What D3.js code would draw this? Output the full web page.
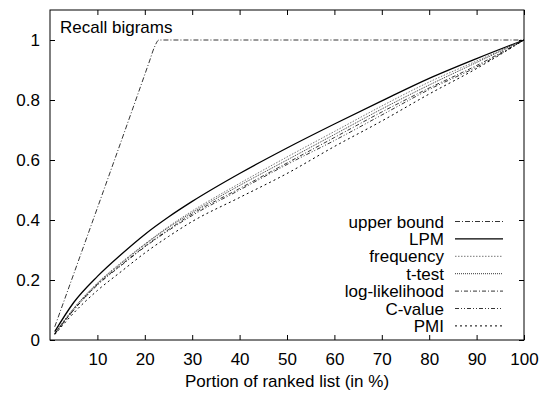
<!DOCTYPE html>
<html>
<head>
<meta charset="utf-8">
<script src="https://cdn.jsdelivr.net/npm/d3@7"></script>
<style>
  body { margin: 0; background: #fff; }
  svg { display: block; }
  text { font-family: 'Liberation Sans', Arial, sans-serif; font-size: 17px; fill: #000; }
</style>
</head>
<body>
<svg></svg>
<script>
// portion of ranked list (%)
let portion = [1, 5, 10, 15, 20, 25, 30, 40, 50, 60, 70, 80, 90, 100]

let upperX = [1, 21, 22, 23, 100]
let upperY = [0.044, 0.93, 0.975, 1, 1]

let lpm       = [0.028, 0.125, 0.212, 0.285, 0.352, 0.41, 0.462, 0.555, 0.64, 0.72, 0.797, 0.872, 0.938, 1]
let frequency = [0.022, 0.105, 0.19, 0.258, 0.32, 0.378, 0.43, 0.522, 0.61, 0.695, 0.78, 0.86, 0.93, 1]
let ttest     = [0.022, 0.105, 0.188, 0.255, 0.318, 0.375, 0.425, 0.515, 0.6, 0.685, 0.77, 0.85, 0.925, 1]
let loglik    = [0.02, 0.1, 0.185, 0.25, 0.312, 0.368, 0.42, 0.505, 0.59, 0.675, 0.76, 0.84, 0.915, 1]
let cvalue    = [0.02, 0.1, 0.183, 0.248, 0.31, 0.365, 0.415, 0.5, 0.585, 0.665, 0.75, 0.835, 0.91, 1]
let pmi       = [0.018, 0.09, 0.165, 0.228, 0.29, 0.345, 0.395, 0.475, 0.555, 0.645, 0.73, 0.82, 0.905, 1]

let xTicks = [10, 20, 30, 40, 50, 60, 70, 80, 90, 100]
let yTicks = [0, 0.2, 0.4, 0.6, 0.8, 1]

let width = 539
let height = 394
let padL = 50, padR = 524, padT = 10, padB = 340

let svg = d3.select('svg').attr('width', width).attr('height', height)

let xScale = d3.scaleLinear().domain([0, 100]).range([padL, padR])
let yScale = d3.scaleLinear().domain([0, 1.1]).range([padB, padT])

// series with their line styles
let series = [
  {name: 'upper bound', xs: upperX, ys: upperY, dash: '5,2,1,2', color: '#000', w: 0.8},
  {name: 'LPM', xs: portion, ys: lpm, dash: null, color: '#000', w: 1.3},
  {name: 'frequency', xs: portion, ys: frequency, dash: '1.5,1.5', color: '#777', w: 1},
  {name: 't-test', xs: portion, ys: ttest, dash: '1,1', color: '#000', w: 0.8},
  {name: 'log-likelihood', xs: portion, ys: loglik, dash: '4,2,1,2', color: '#000', w: 0.8},
  {name: 'C-value', xs: portion, ys: cvalue, dash: '4,2,1,2,1,2', color: '#000', w: 0.8},
  {name: 'PMI', xs: portion, ys: pmi, dash: '2,3', color: '#000', w: 1}
]

let line = d3.line().x(d => xScale(d[0])).y(d => yScale(d[1])).curve(d3.curveMonotoneX)

series.forEach(s => {
  svg.append('path')
    .datum(s.xs.map((x, i) => [x, s.ys[i]]))
    .attr('d', line)
    .attr('fill', 'none')
    .attr('stroke', s.color)
    .attr('stroke-width', s.w)
    .attr('stroke-dasharray', s.dash)
})

// axes, ticks pointing inward on all four sides
let xAxis = d3.axisBottom(xScale).tickValues(xTicks).tickSizeInner(-5).tickSizeOuter(0).tickPadding(13)
let yAxis = d3.axisLeft(yScale).tickValues(yTicks).tickSizeInner(-5).tickSizeOuter(0).tickPadding(10)
  .tickFormat(d3.format('~g'))

svg.append('g').attr('transform', 'translate(0,' + padB + ')').call(xAxis)
svg.append('g').attr('transform', 'translate(' + padL + ',0)').call(yAxis)
svg.append('g').attr('transform', 'translate(0,' + padT + ')')
  .call(d3.axisTop(xScale).tickValues(xTicks).tickSizeInner(-5).tickSizeOuter(0).tickFormat(''))
svg.append('g').attr('transform', 'translate(' + padR + ',0)')
  .call(d3.axisRight(yScale).tickValues(yTicks).tickSizeInner(-5).tickSizeOuter(0).tickFormat(''))

svg.selectAll('.domain').remove()
svg.selectAll('.tick line').attr('stroke', '#000')
svg.selectAll('.tick text').attr('font-size', 17).attr('font-family', "'Liberation Sans', Arial, sans-serif")

svg.append('rect')
  .attr('x', padL).attr('y', padT)
  .attr('width', padR - padL).attr('height', padB - padT)
  .attr('fill', 'none').attr('stroke', '#000').attr('stroke-width', 1)

svg.append('text').attr('x', 60).attr('y', 33).text('Recall bigrams')

svg.append('text').attr('x', (padL + padR) / 2).attr('y', 387)
  .attr('text-anchor', 'middle').text('Portion of ranked list (in %)')

// legend
let legend = svg.append('g')
series.forEach((s, i) => {
  let y = 221.5 + i * 17.4
  legend.append('text').attr('x', 444).attr('y', y + 6)
    .attr('text-anchor', 'end').text(s.name)
  legend.append('line')
    .attr('x1', 455).attr('x2', 503).attr('y1', y).attr('y2', y)
    .attr('stroke', s.color).attr('stroke-width', s.w)
    .attr('stroke-dasharray', s.dash)
})
</script>
</body>
</html>
